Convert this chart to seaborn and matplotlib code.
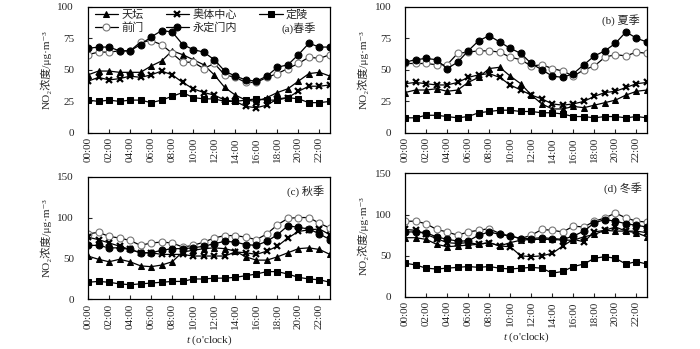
import matplotlib
matplotlib.use("Agg")
import matplotlib.pyplot as plt
import seaborn as sns
import numpy as np

sns.set_theme(style="white")
plt.rcParams["font.family"] = ["Liberation Serif", "DejaVu Serif", "Noto Sans CJK SC"]
plt.rcParams["mathtext.fontset"] = "custom"
plt.rcParams["mathtext.rm"] = "Liberation Serif"
plt.rcParams["mathtext.it"] = "Liberation Serif:italic"

hours = list(range(24))
tick_labels = [f"{h:02d}:00" for h in range(0, 24, 2)]
sites = ["天坛", "前门", "奥体中心", "永定门内", "定陵"]
seasons = ["(a)春季", "(b) 夏季", "(c) 秋季", "(d) 冬季"]

# spring
tiantan_a = [46, 49, 49, 48, 48, 48, 53, 57, 65, 62, 58, 54, 46, 36, 30, 26, 25, 28, 32, 35, 41, 47, 48, 45]
qianmen_a = [62, 64, 64, 65, 65, 72, 73, 70, 63, 56, 56, 51, 55, 46, 44, 40, 40, 44, 47, 51, 55, 60, 59, 62]
aoti_a = [41, 44, 42, 43, 45, 44, 46, 49, 46, 40, 35, 32, 30, 26, 25, 21, 20, 22, 27, 28, 33, 37, 37, 38]
yongding_a = [67, 68, 68, 65, 65, 70, 76, 81, 80, 70, 66, 64, 58, 49, 45, 42, 41, 45, 52, 54, 62, 71, 68, 68]
dingling_a = [26, 25, 26, 25, 26, 26, 24, 26, 29, 32, 28, 27, 27, 25, 25, 26, 27, 26, 26, 28, 27, 24, 24, 25]

# summer
tiantan_b = [32, 34, 34, 35, 33, 34, 40, 44, 51, 52, 45, 39, 30, 23, 19, 19, 21, 20, 22, 24, 26, 30, 33, 34]
qianmen_b = [55, 55, 55, 54, 54, 63, 64, 65, 65, 64, 60, 58, 53, 54, 51, 49, 45, 50, 53, 60, 62, 61, 64, 63]
aoti_b = [39, 40, 39, 38, 38, 40, 44, 46, 47, 44, 38, 34, 30, 27, 23, 22, 23, 25, 29, 32, 33, 36, 39, 40]
yongding_b = [56, 58, 59, 58, 51, 56, 65, 73, 77, 72, 67, 63, 55, 50, 45, 44, 47, 54, 61, 65, 71, 80, 75, 72]
dingling_b = [12, 12, 14, 14, 13, 12, 13, 16, 17, 18, 18, 17, 17, 16, 16, 15, 13, 13, 12, 13, 13, 12, 13, 12]

# autumn
tiantan_c = [53, 49, 46, 49, 46, 41, 40, 42, 46, 58, 60, 62, 63, 62, 59, 52, 48, 48, 52, 57, 62, 63, 61, 55]
qianmen_c = [80, 82, 77, 75, 72, 66, 69, 70, 69, 64, 66, 70, 75, 78, 78, 76, 73, 80, 91, 99, 100, 100, 93, 87]
aoti_c = [76, 73, 69, 65, 61, 57, 57, 55, 55, 55, 53, 53, 53, 53, 58, 57, 55, 59, 65, 75, 83, 85, 86, 79]
yongding_c = [66, 66, 63, 63, 61, 57, 57, 60, 62, 62, 63, 65, 68, 71, 70, 67, 66, 71, 79, 90, 88, 86, 80, 73]
dingling_c = [21, 22, 21, 19, 18, 19, 20, 21, 22, 22, 25, 25, 26, 26, 27, 29, 31, 34, 34, 31, 27, 25, 24, 21]

# winter
tiantan_d = [72, 72, 70, 64, 61, 62, 63, 64, 66, 62, 66, 69, 70, 70, 70, 69, 69, 73, 76, 81, 80, 80, 78, 73]
qianmen_d = [92, 92, 89, 82, 79, 75, 79, 81, 83, 77, 74, 71, 75, 82, 81, 79, 86, 85, 92, 96, 102, 96, 92, 91]
aoti_d = [82, 81, 76, 71, 66, 65, 66, 64, 66, 62, 61, 50, 49, 50, 53, 62, 70, 67, 79, 81, 85, 80, 80, 78]
yongding_d = [79, 79, 78, 73, 70, 68, 68, 75, 79, 76, 74, 71, 71, 72, 71, 70, 74, 80, 90, 94, 92, 89, 87, 85]
dingling_d = [41, 39, 35, 34, 35, 36, 37, 36, 37, 35, 34, 35, 36, 35, 29, 31, 37, 40, 47, 49, 47, 40, 43, 40]

panels = [
    [tiantan_a, qianmen_a, aoti_a, yongding_a, dingling_a],
    [tiantan_b, qianmen_b, aoti_b, yongding_b, dingling_b],
    [tiantan_c, qianmen_c, aoti_c, yongding_c, dingling_c],
    [tiantan_d, qianmen_d, aoti_d, yongding_d, dingling_d],
]
y_max = [100, 100, 150, 150]
y_step = [25, 25, 50, 50]

marker_styles = {
    "天坛": dict(marker="^", markersize=5, markerfacecolor="black", markeredgecolor="black"),
    "前门": dict(marker="o", markersize=5, markerfacecolor="white", markeredgecolor="#777777", markeredgewidth=0.8),
    "奥体中心": dict(marker="x", markersize=4.5, markeredgecolor="black", markeredgewidth=1.6),
    "永定门内": dict(marker="o", markersize=5, markerfacecolor="black", markeredgecolor="black"),
    "定陵": dict(marker="s", markersize=5, markerfacecolor="black", markeredgecolor="black"),
}

fig = plt.figure(figsize=(7.0, 3.49), dpi=100)
rects = [
    [0.1257, 0.619, 0.3457, 0.362],
    [0.5786, 0.619, 0.3457, 0.362],
    [0.1257, 0.142, 0.3457, 0.352],
    [0.5786, 0.149, 0.3457, 0.354],
]
label_pos = [(0.87, 0.83), (0.89, 0.89), (0.90, 0.88), (0.90, 0.88)]

for i, (rect, series) in enumerate(zip(rects, panels)):
    ax = fig.add_axes(rect)
    for name, vals in zip(sites, series):
        sns.lineplot(x=hours, y=vals, ax=ax, color="black", linewidth=0.9,
                     label=name, legend=False, **marker_styles[name])
    ax.set_xlim(0, 23)
    ax.set_ylim(0, y_max[i])
    ax.set_xticks(range(0, 24, 2))
    ax.set_xticklabels(tick_labels, rotation=90, fontsize=8)
    ax.set_yticks(np.arange(0, y_max[i] + 1, y_step[i]))
    ax.tick_params(axis="both", direction="in", length=3, width=0.8,
                   labelsize=8, bottom=True, left=True, pad=3)
    ax.tick_params(axis="y", pad=10)
    for sp in ax.spines.values():
        sp.set_color("black")
        sp.set_linewidth(0.9)
    ax.set_ylabel("NO₂浓度/μg·m⁻³", fontsize=8, labelpad=4)
    ax.set_xlabel("")
    ax.text(label_pos[i][0], label_pos[i][1], seasons[i], transform=ax.transAxes,
            ha="center", va="center", fontsize=8)
    if i >= 2:
        ax.set_xlabel("$t$ (o'clock)", fontsize=8, labelpad=3)
    if i == 0:
        handles, labels = ax.get_legend_handles_labels()
        ax.legend(handles, labels, ncol=3, frameon=False, fontsize=8,
                  loc="upper left", bbox_to_anchor=(0.0, 1.03),
                  handlelength=2.1, columnspacing=2.0, labelspacing=0.15,
                  handletextpad=0.3, borderaxespad=0.2)

fig.savefig("out.png", dpi=100)
